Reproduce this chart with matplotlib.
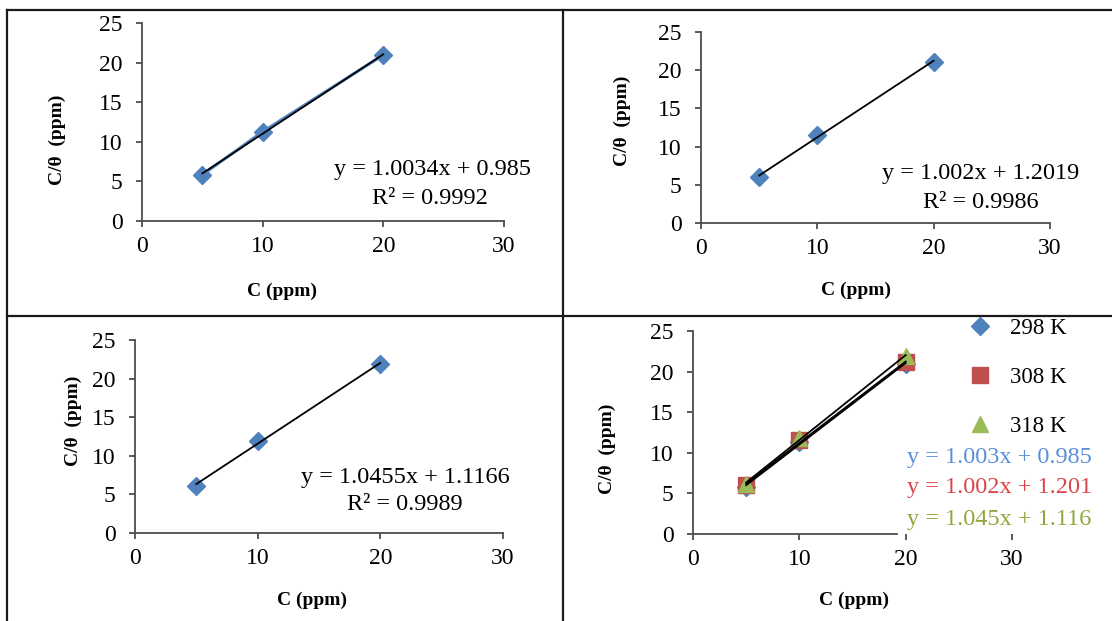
"""Four-panel Langmuir isotherm plot (C/theta vs C) at 298, 308 and 318 K."""

import matplotlib

matplotlib.use("Agg")
import matplotlib.pyplot as plt
import numpy as np
from matplotlib.lines import Line2D

# data
conc = [5, 10, 20]
ratio_298 = [5.84, 11.27, 20.97]
ratio_308 = [6.00, 11.55, 21.13]
ratio_318 = [6.14, 11.87, 21.93]

temps = ["298 K", "308 K", "318 K"]
eq_full = [
    ("y = 1.0034x + 0.985", "R\u00b2 = 0.9992"),
    ("y = 1.002x + 1.2019", "R\u00b2 = 0.9986"),
    ("y = 1.0455x + 1.1166", "R\u00b2 = 0.9989"),
]
eq_short = ["y = 1.003x + 0.985", "y = 1.002x + 1.201", "y = 1.045x + 1.116"]

x_ticks = [0, 10, 20, 30]
y_ticks = [0, 5, 10, 15, 20, 25]

BLUE = "#4F81BD"
RED = "#C0504D"
GREEN = "#9BBB59"
TEXT_COLORS = ["#5B8FD9", "#D9464A", "#8FA83C"]
AXIS_COLOR = "#4D4D4D"

W, H = 1112, 621
DPI = 100

plt.rcParams["font.family"] = ["Liberation Serif", "DejaVu Serif"]

fig = plt.figure(figsize=(W / DPI, H / DPI), dpi=DPI)
fig.patch.set_facecolor("white")


def px_axes(left, right, top, bottom):
    return fig.add_axes([left / W, 1 - bottom / H, (right - left) / W, (bottom - top) / H])


def px_text(x, y, s, **kw):
    return fig.text(x / W, 1 - y / H, s, **kw)


def style_axes(ax):
    ax.set_xlim(0, 30)
    ax.set_ylim(0, 25)
    ax.set_xticks(x_ticks)
    ax.set_yticks(y_ticks)
    for side in ("top", "right"):
        ax.spines[side].set_visible(False)
    for side in ("left", "bottom"):
        ax.spines[side].set_color(AXIS_COLOR)
        ax.spines[side].set_linewidth(1.3)
    ax.tick_params(direction="out", length=4, width=1.3, color=AXIS_COLOR, labelsize=17)
    ax.tick_params(axis="x", pad=7)
    ax.tick_params(axis="y", pad=10)
    ax.patch.set_alpha(0)


def trendline(ax, y):
    slope, icept = np.polyfit(conc, y, 1)
    xs = np.array([min(conc), max(conc)])
    ax.plot(xs, slope * xs + icept, color="black", lw=1.3, zorder=4)


def axis_labels(xl, yl):
    px_text(*xl, "C (ppm)", ha="center", va="center", fontsize=14, fontweight="bold")
    px_text(*yl, "C/\u03b8  (ppm)", ha="center", va="center", rotation=90,
            fontsize=14, fontweight="bold")


# panel frame lines
frame = [
    ((7, W), (9.5, 9.5)),
    ((7, W), (315.5, 315.5)),
    ((7, 7), (9.5, H)),
    ((563, 563), (9.5, H)),
]
for xs, ys in frame:
    fig.add_artist(Line2D([x / W for x in xs], [1 - y / H for y in ys],
                          transform=fig.transFigure, color="#1A1A1A", lw=1.6))

# single-temperature panels
single = [
    (ratio_298, (142, 504, 23, 221), (282, 291), (57, 140), (432, 170), (430, 199)),
    (ratio_308, (701, 1050, 32, 223), (856, 290), (622, 121), (981, 174), (981, 202)),
    (ratio_318, (135, 503, 340, 533), (312, 600), (73, 421), (405, 477), (405, 505)),
]
for i, (ys, box, xl, yl, e1, e2) in enumerate(single):
    ax = px_axes(*box)
    style_axes(ax)
    if i == 0:
        ax.plot(conc, ys, color=BLUE, lw=2.2, zorder=3)
    ax.plot(conc, ys, ls="none", marker="D", ms=9.5, color=BLUE, zorder=3)
    trendline(ax, ys)
    axis_labels(xl, yl)
    px_text(*e1, eq_full[i][0], ha="center", va="center", fontsize=17.5)
    px_text(*e2, eq_full[i][1], ha="center", va="center", fontsize=17.5)

# combined panel
ax4 = px_axes(693, 1012, 331, 534)
style_axes(ax4)
ax4.spines["bottom"].set_bounds(0, 19.2)
h1, = ax4.plot(conc, ratio_298, ls="none", marker="D", ms=9.5, color=BLUE, zorder=3)
h2, = ax4.plot(conc, ratio_308, ls="none", marker="s", ms=12, color=RED, zorder=3)
h3, = ax4.plot(conc, ratio_318, ls="none", marker="^", ms=12, color=GREEN, zorder=3)
for ys in (ratio_298, ratio_308, ratio_318):
    trendline(ax4, ys)
axis_labels((854, 600), (607, 449))

ax4.legend([h1, h2, h3], temps, loc="upper left", frameon=False, fontsize=16.5,
           bbox_to_anchor=(969 / W, 1 - 318 / H), bbox_transform=fig.transFigure,
           borderpad=0, borderaxespad=0, handlelength=1.0, handletextpad=0.8,
           labelspacing=1.22)

for y, s, c in zip((458, 488, 520), eq_short, TEXT_COLORS):
    px_text(907, y, s, ha="left", va="center", fontsize=17.5, color=c)

fig.savefig("out.png", dpi=DPI)
